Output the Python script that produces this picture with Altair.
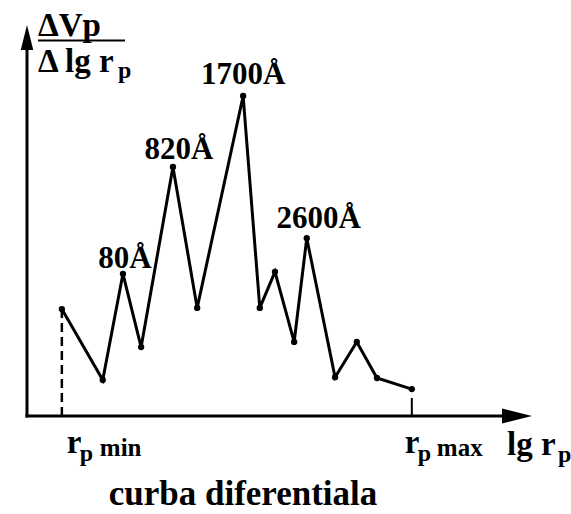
import altair as alt
import pandas as pd

# ---- data (arbitrary units) ----
lg_rp = [6.9, 15.0, 19.0, 22.6, 28.9, 33.7, 42.8, 46.1, 49.1, 52.9, 55.4, 61.0, 65.3, 69.3, 76.2]
dV = [27.0, 9.1, 35.9, 17.4, 62.9, 27.3, 80.8, 27.3, 36.4, 18.7, 44.9, 9.8, 18.7, 9.6, 6.8]
peak_index = [2, 4, 6, 10]
peak_labels = ["80Å", "820Å", "1700Å", "2600Å"]
peak_dx = [2, 6, 0, 12]
peak_dy = [-6, -8, -12, -10]

W, H = 505, 396
FONT = "'Liberation Serif', 'Times New Roman', Times, serif"

xs = alt.Scale(domain=[0, 100], nice=False, zero=False)
ys = alt.Scale(domain=[0, 100], nice=False, zero=False)

df = pd.DataFrame({"x": lg_rp, "y": dV})
one = pd.DataFrame({"a": [0]})

X = alt.X("x:Q", scale=xs, axis=None)
Y = alt.Y("y:Q", scale=ys, axis=None)

line = alt.Chart(df).mark_line(color="black", strokeWidth=3, strokeJoin="miter").encode(x=X, y=Y)
pts = alt.Chart(df).mark_circle(color="black", size=40, opacity=1).encode(x=X, y=Y)

# dashed line at rp min
dash_df = pd.DataFrame({"x": [lg_rp[0]], "y": [0.0], "y2": [dV[0]]})
dash = alt.Chart(dash_df).mark_rule(color="black", strokeWidth=2.5, strokeDash=[9, 5]).encode(
    x=X, y=Y, y2="y2:Q")

# tick at rp max
tick_df = pd.DataFrame({"x": [lg_rp[-1]]})
tick = alt.Chart(tick_df).mark_rule(color="black", strokeWidth=2).encode(
    x=X, y=alt.value(H), y2=alt.value(H - 18))

# axes with arrows
yaxis = alt.Chart(one).mark_rule(color="black", strokeWidth=3, strokeCap="square").encode(
    x=alt.value(0), y=alt.value(H), y2=alt.value(20))
xaxis = alt.Chart(one).mark_rule(color="black", strokeWidth=3, strokeCap="square").encode(
    x=alt.value(0), x2=alt.value(480), y=alt.value(H))
yarrow = alt.Chart(one).mark_point(shape="M0,-1L0.5,1L-0.5,1Z", filled=True, size=625,
                                   color="black", opacity=1).encode(
    x=alt.value(0), y=alt.value(17.5))
xarrow = alt.Chart(one).mark_point(shape="M1,0L-1,-0.5L-1,0.5Z", filled=True, size=900,
                                   color="black", opacity=1).encode(
    x=alt.value(490), y=alt.value(H))

layers = [yaxis, xaxis, yarrow, xarrow, dash, tick, line, pts]

# peak labels
for i, lab, dx, dy in zip(peak_index, peak_labels, peak_dx, peak_dy):
    d = pd.DataFrame({"x": [lg_rp[i]], "y": [dV[i]]})
    layers.append(alt.Chart(d).mark_text(text=lab, font=FONT, fontWeight="bold", fontSize=31,
                                         align="center", baseline="alphabetic", dx=dx, dy=dy,
                                         color="black").encode(x=X, y=Y))


def txt(t, x, y, size, align="left"):
    return alt.Chart(one).mark_text(text=t, font=FONT, fontWeight="bold", fontSize=size,
                                    align=align, baseline="alphabetic", color="black").encode(
        x=alt.value(x), y=alt.value(y))


def txt_at(t, xval, dx, y, size):
    d = pd.DataFrame({"x": [xval]})
    return alt.Chart(d).mark_text(text=t, font=FONT, fontWeight="bold", fontSize=size,
                                  align="left", baseline="alphabetic", dx=dx,
                                  color="black").encode(x=X, y=alt.value(y))


# y-axis title (fraction)
layers.append(txt("ΔVp", 11, 16, 33))
layers.append(alt.Chart(one).mark_rule(color="black", strokeWidth=2).encode(
    x=alt.value(11), x2=alt.value(98), y=alt.value(20.5)))
layers.append(txt("Δ lg r", 11, 52, 33))
layers.append(txt("p", 91, 58, 24))

# x labels
layers.append(txt_at("r", lg_rp[0], 5, 433, 33))
layers.append(txt_at("p", lg_rp[0], 18, 441, 24))
layers.append(txt_at("min", lg_rp[0], 38, 436, 25))
layers.append(txt_at("r", lg_rp[-1], -7, 433, 33))
layers.append(txt_at("p", lg_rp[-1], 6, 441, 24))
layers.append(txt_at("max", lg_rp[-1], 25, 436, 25))
layers.append(txt("lg r", 480, 435, 33))
layers.append(txt("p", 531, 442, 24))

# caption
layers.append(txt("curba diferentiala", 216, 485, 35, align="center"))

chart = alt.layer(*layers).properties(
    width=W, height=H,
    padding={"left": 27, "top": 20, "right": 39, "bottom": 98},
    autosize="none",
    background="white",
).configure_view(stroke=None)

chart.save("out.html", embed_options={"renderer": "svg", "actions": False})
